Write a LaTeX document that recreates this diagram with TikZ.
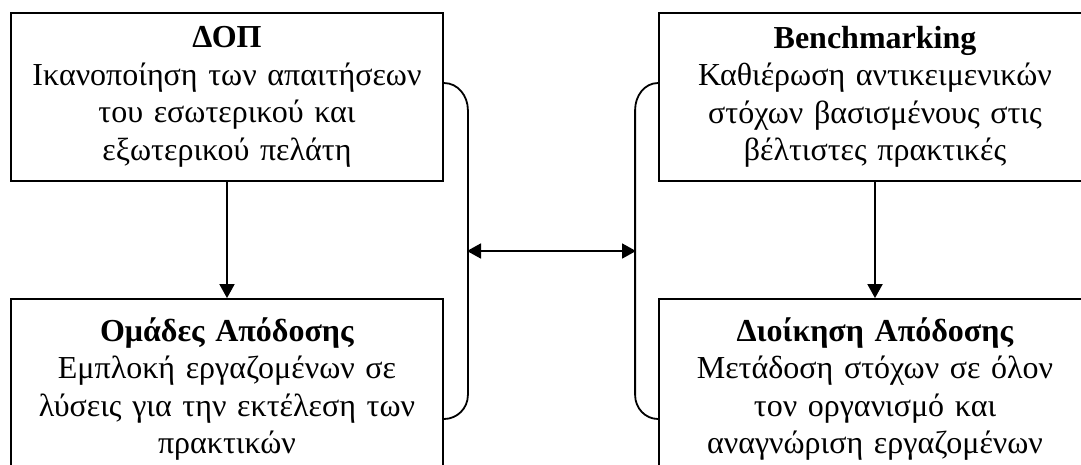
\documentclass[tikz,border=0pt]{standalone}
\usepackage{fontspec}
\setmainfont{Liberation Serif}
\usetikzlibrary{arrows.meta,positioning}

\begin{document}
\begin{tikzpicture}[
    x=1pt, y=1pt,
    box/.style={draw, line width=1.8pt, minimum width=432pt, minimum height=168pt,
      text width=425pt, align=center, inner sep=0pt,
      font=\fontsize{32}{37.5}\selectfont},
    lowbox/.style={box, minimum height=180pt},
    link/.style={line width=1.8pt},
    tip/.style={-{Triangle[length=14pt,width=15pt]}},
    tips/.style={{Triangle[length=14pt,width=15pt]}-{Triangle[length=14pt,width=15pt]}}
  ]
  \useasboundingbox (0,0) rectangle (1081,-464);
  \clip (0,0) rectangle (1081,-464);
  % boxes
  \node[box] (dop) at (227,-97) {\textbf{ΔΟΠ}\\
    Ικανοποίηση των απαιτήσεων\\ του εσωτερικού και\\ εξωτερικού πελάτη};
  \node[box] (bench) at (875,-97) {\textbf{Benchmarking}\\
    Καθιέρωση αντικειμενικών\\ στόχων βασισμένους στις\\ βέλτιστες πρακτικές};
  \node[lowbox] (omades) at (227,-389) {\textbf{Ομάδες Απόδοσης}\\
    Εμπλοκή εργαζομένων σε\\ λύσεις για την εκτέλεση των\\ πρακτικών};
  \node[lowbox] (dioik) at (875,-389) {\textbf{Διοίκηση Απόδοσης}\\
    Μετάδοση στόχων σε όλον\\ τον οργανισμό και\\ αναγνώριση εργαζομένων};
  % arrows down
  \draw[link,tip] (dop) -- (omades);
  \draw[link,tip] (bench) -- (dioik);
  % brackets
  \draw[link] ([yshift=14pt]dop.east) to[out=0,in=90] ++(24,-27)
    -- ([shift={(24pt,-6pt)}]omades.east) to[out=-90,in=0] ([yshift=-30pt]omades.east);
  \draw[link] ([yshift=14pt]bench.west) to[out=180,in=90] ++(-23,-27)
    -- ([shift={(-23pt,-6pt)}]dioik.west) to[out=-90,in=180] ([yshift=-30pt]dioik.west);
  \coordinate (lb) at (467,-251);
  \coordinate (rb) at (636,-251);
  \draw[link,tips] (lb) -- (rb);
\end{tikzpicture}
\end{document}
